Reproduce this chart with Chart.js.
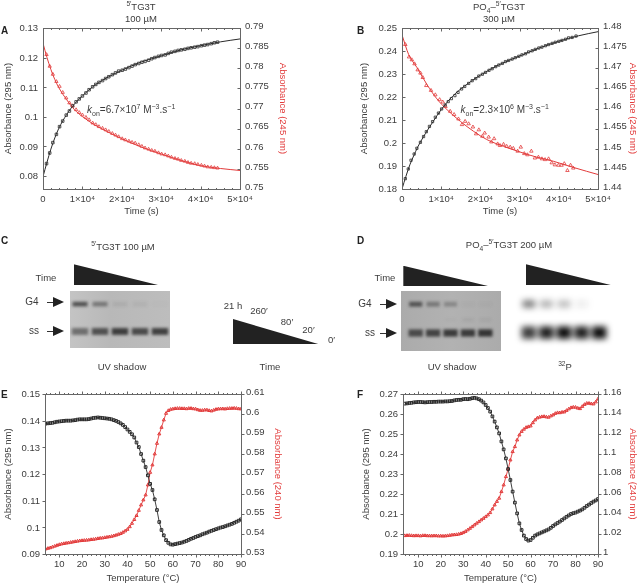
<!DOCTYPE html>
<html><head><meta charset="utf-8">
<script src="https://cdn.jsdelivr.net/npm/chart.js@4"></script>
<style>
html,body{margin:0;padding:0;background:#fff}
#page{position:relative;width:638px;height:583px;overflow:hidden;font-family:"Liberation Sans",Arial,sans-serif;font-size:9.5px;color:#3c3c3c;filter:blur(.35px)}
canvas{position:absolute;display:block}
.t{position:absolute;white-space:nowrap;line-height:1;transform:translate(-50%,-50%)}
.l{position:absolute;white-space:nowrap;line-height:1;transform:translateY(-50%)}
.b{font-weight:bold;color:#222;font-size:10px}
sup,sub{font-size:70%;line-height:0}
.tri,.head{position:absolute;background:#222}
.tri{clip-path:polygon(0 0,100% 100%,0 100%)}
.head{clip-path:polygon(0 0,100% 50%,0 100%)}
.shaft{position:absolute;height:1px;background:#333}
.gel{position:absolute;overflow:hidden}
</style></head><body><div id="page"></div>
<script>
// ---------- panel A ----------
const timeA=[.9,1.7,2.5,3.4,4.2,5,5.9,6.7,7.5,8.4,9.2,10,10.9,11.7,12.6,13.4,14.2,15.1,15.9,16.7,17.6,18.4,19.2,20.1,20.9,21.8,22.6,23.4,24.3,25.1,25.9,26.8,27.6,28.4,29.3,30.1,31,31.8,32.6,33.5,34.3,35.1,36,36.8,37.6,38.5,39.3,40.2,41,41.8,42.7,43.5,44.3];
const blackA=[.0841,.0877,.0912,.0940,.0966,.0985,.1005,.1019,.1036,.1050,.1060,.1070,.1080,.1091,.1101,.1109,.1116,.1122,.1129,.1135,.1142,.1148,.1154,.1157,.1161,.1166,.1171,.1176,.1180,.1184,.1187,.1191,.1196,.1200,.1204,.1207,.1209,.1214,.1218,.1221,.1224,.1226,.1228,.1231,.1233,.1235,.1237,.1240,.1242,.1244,.1247,.1250,.1252];
const redA=[.7834,.7805,.7785,.7767,.7755,.7740,.7726,.7714,.7707,.7697,.7690,.7684,.7678,.7672,.7664,.7660,.7655,.7651,.7647,.7643,.7638,.7634,.7630,.7625,.7622,.7619,.7616,.7614,.7610,.7606,.7602,.7599,.7596,.7594,.7590,.7587,.7585,.7582,.7579,.7576,.7574,.7571,.7569,.7566,.7564,.7563,.7561,.7559,.7557,.7555,.7554,.7553,.7552];
const fitTimeA=[0,1,2,3,4,6,8,10,13,16,20,25,30,35,40,45,50];
const fitBlackA=[.0797,.0845,.0890,.0928,.0960,.1007,.1043,.1070,.1105,.1130,.1157,.1185,.1206,.1226,.1240,.1253,.1263];
const fitRedA=[.7862,.7827,.7797,.7772,.7752,.7722,.7697,.7680,.7660,.7644,.7625,.7604,.7587,.7571,.7558,.7551,.7546];
// ---------- panel B ----------
const timeB=[.85,1.6,2.3,3.1,3.8,4.7,5.5,6.2,7,7.8,8.5,9.3,10.1,11,11.8,12.6,13.5,14.3,15.2,16,17,17.9,18.8,19.6,20.5,21.3,22.2,23,23.9,24.7,25.6,26.4,27.2,28.1,28.9,29.8,30.6,31.5,32.3,33.2,34,34.9,35.7,36.6,37.4,38.3,39.1,40,40.8,41.7,42.5,43.4,44.4];
const blackB=[.1845,.1887,.1925,.1952,.1977,.2003,.2028,.2049,.2072,.2093,.2112,.2130,.2148,.2165,.2180,.2193,.2206,.2220,.2235,.2246,.2259,.2271,.2280,.2291,.2299,.2307,.2316,.2323,.2332,.2339,.2346,.2354,.2359,.2365,.2371,.2377,.2383,.2388,.2396,.2401,.2407,.2413,.2417,.2423,.2428,.2433,.2438,.2442,.2446,.2451,.2457,.2459,.2465];
const timeRedB=[.85,1.8,2.5,3.2,4,4.7,5.3,6.2,7.4,8.5,9.6,10.4,11.1,12.3,13.3,14.4,15.3,16.1,17,18.1,18.9,19.6,20.5,21.1,22.1,22.8,23.5,24.4,25,25.9,26.7,27.6,28.4,29.5,30.3,31.2,32,33,33.9,34.8,35.7,36.5,37.4,38.2,39,39.9,40.7,41.4,42.2,43,43.7];
const redB=[1.4759,1.4728,1.4721,1.4711,1.4696,1.4688,1.4677,1.4657,1.4645,1.4634,1.4622,1.4616,1.4605,1.4593,1.4585,1.4574,1.456,1.4568,1.4562,1.4554,1.4537,1.4547,1.4531,1.4539,1.4529,1.4517,1.4525,1.4512,1.4508,1.4511,1.4506,1.4504,1.4501,1.4494,1.4504,1.4488,1.4485,1.4494,1.4477,1.4479,1.4475,1.4473,1.4475,1.4465,1.4460,1.4459,1.4459,1.4463,1.4446,1.4459,1.4452];
const fitTimeBlackB=[0,1,2,3,4,6,8,10,13,16,20,25,30,35,40,45,50];
const fitBlackB=[.18,.1855,.1905,.1945,.1982,.2042,.2095,.2145,.2205,.2248,.2295,.2342,.2378,.2413,.2442,.2466,.2484];
const fitTimeRedB=[0,1.7,3.8,6.4,8.9,11.5,14.9,18.3,21.6,25.9,30.1,34.4,38.6,42.9,47.1,50];
const fitRedB=[1.4783,1.4734,1.4702,1.4659,1.4624,1.4597,1.4568,1.4543,1.4523,1.4506,1.4492,1.4479,1.4469,1.4456,1.4444,1.4436];
// ---------- panels E and F ----------
const tempC=[4,5,6,7,8,9,10,11,12,13,14,15,16,17,18,19,20,21,22,23,24,25,26,27,28,29,30,31,32,33,34,35,36,37,38,39,40,41,42,43,44,45,46,47,48,49,50,51,52,53,54,55,56,57,58,59,60,61,62,63,64,65,66,67,68,69,70,71,72,73,74,75,76,77,78,79,80,81,82,83,84,85,86,87,88,89,90];
const blackE=[.1389,.1390,.1391,.1392,.1394,.1396,.1397,.1398,.1399,.1400,.1400,.1400,.1401,.1402,.1404,.1405,.1405,.1405,.1405,.1406,.1408,.1410,.1411,.1412,.1411,.1410,.1409,.1408,.1407,.1405,.1402,.1399,.1395,.1390,.1384,.1376,.1367,.1358,.1349,.1337,.1318,.1301,.1275,.1250,.1226,.1195,.1163,.1140,.1105,.1065,.1020,.0990,.0970,.0952,.0942,.0936,.0935,.0937,.0939,.0941,.0943,.0946,.0949,.0953,.0957,.0960,.0964,.0967,.0970,.0974,.0977,.0980,.0984,.0987,.0990,.0993,.0996,.0999,.1001,.1004,.1007,.1010,.1013,.1017,.1021,.1025,.1030];
const redE=[.5325,.5328,.5331,.5335,.5339,.5343,.5347,.5350,.5352,.5354,.5356,.5358,.5360,.5362,.5364,.5366,.5367,.5368,.5369,.5370,.5372,.5373,.5375,.5377,.5379,.5380,.5382,.5384,.5386,.5388,.5391,.5394,.5398,.5402,.5408,.5415,.5423,.5436,.5453,.5472,.5492,.5518,.5545,.5570,.5595,.5645,.5708,.5745,.5800,.5853,.5900,.5933,.5970,.6003,.6017,.6023,.6025,.6027,.6028,.6028,.6027,.6027,.6026,.6028,.6028,.6026,.6025,.6021,.6018,.6018,.6020,.6020,.6017,.6015,.6019,.6023,.6025,.6026,.6026,.6025,.6027,.6028,.6028,.6029,.6028,.6026,.6025];
const blackF=[.2652,.2653,.2655,.2656,.2658,.2659,.2660,.2660,.2659,.2658,.2659,.2660,.2660,.2661,.2661,.2662,.2662,.2662,.2663,.2663,.2664,.2665,.2668,.2670,.2671,.2671,.2674,.2675,.2674,.2676,.2679,.2681,.2678,.2674,.2667,.2658,.2645,.2630,.2612,.2588,.2562,.2533,.2503,.2463,.2423,.2378,.2325,.2270,.2212,.2157,.2103,.2053,.2020,.1992,.1975,.1967,.1970,.1981,.1992,.1998,.2003,.2008,.2013,.2018,.2023,.2031,.2040,.2048,.2055,.2062,.2070,.2078,.2086,.2093,.2100,.2104,.2107,.2112,.2117,.2123,.2131,.2140,.2147,.2155,.2162,.2168,.2175];
const redF=[1.0183,1.0185,1.0186,1.0184,1.0182,1.0183,1.0183,1.0181,1.0184,1.0184,1.0182,1.0182,1.0181,1.0182,1.0182,1.0180,1.0180,1.0179,1.0180,1.0183,1.0186,1.0190,1.0192,1.0194,1.0198,1.0204,1.0213,1.0225,1.0240,1.0256,1.0273,1.0290,1.0307,1.0323,1.0340,1.0356,1.0373,1.0390,1.0413,1.0450,1.0490,1.0525,1.0557,1.0623,1.0690,1.0773,1.0850,1.0940,1.1023,1.1073,1.1140,1.1190,1.1225,1.1247,1.1265,1.1273,1.1280,1.1312,1.1340,1.1360,1.1368,1.1373,1.1375,1.1370,1.1367,1.1380,1.1390,1.1405,1.1413,1.1412,1.1418,1.1420,1.1435,1.1450,1.1463,1.1468,1.1467,1.1458,1.1453,1.1475,1.1495,1.1507,1.1507,1.1502,1.1500,1.1520,1.1550];
// ---------- tick labels ----------
const ticksTime=[0,10,20,30,40,50];
const ticksTemp=[10,20,30,40,50,60,70,80,90];
const ticksLeftA=[.08,.09,.1,.11,.12,.13];
const ticksRightA=[.75,.755,.76,.765,.77,.775,.78,.785,.79];
const ticksLeftB=[.18,.19,.2,.21,.22,.23,.24,.25];
const ticksRightB=[1.44,1.445,1.45,1.455,1.46,1.465,1.47,1.475,1.48];
const ticksLeftE=[.09,.1,.11,.12,.13,.14,.15];
const ticksRightE=[.53,.54,.55,.56,.57,.58,.59,.6,.61];
const ticksLeftF=[.19,.2,.21,.22,.23,.24,.25,.26,.27];
const ticksRightF=[1,1.02,1.04,1.06,1.08,1.1,1.12,1.14,1.16];
// ---------- gels: band darkness per lane ----------
const lanes=['1','2','3','4','5'];
const gelCG4=[.7,.45,.08,.06,.02];
const gelCss=[.5,.68,.8,.72,.78];
const gelD1G4=[.62,.38,.28,.03,.03];
const gelD1mid=[0,0,.02,.07,.06];
const gelD1ss=[.68,.72,.78,.78,.82];
const gelD2G4=[.55,.32,.27,.08,0];
const gelD2ss=[.8,.92,1,.92,1];

const BLACK='#2a2a2a',RED='#e23b3b',TEXT='#3c3c3c',FONT='"Liberation Sans",Arial,sans-serif';
const page=document.getElementById('page');
const xy=(xs,ys)=>xs.map((x,i)=>({x,y:ys[i]}));

const frameTicks={id:'frameTicks',afterDatasetsDraw(c,_a,o){
  const g=c.ctx,a=c.chartArea,{x,y,y1}=c.scales;
  g.save();g.strokeStyle='#666';g.lineWidth=1;
  const L=Math.round(a.left)+.5,R=Math.round(a.right)+.5,T=Math.round(a.top)+.5,B=Math.round(a.bottom)+.5;
  g.strokeRect(L,T,R-L,B-T);
  const d=o.out?-1:1,seg=(x0,y0,x1,y1)=>{g.beginPath();g.moveTo(x0,y0);g.lineTo(x1,y1);g.stroke()};
  y.ticks.forEach(t=>{const p=Math.round(y.getPixelForValue(t.value))+.5;seg(L,p,L+d*3,p)});
  y1.ticks.forEach(t=>{const p=Math.round(y1.getPixelForValue(t.value))+.5;seg(R,p,R-d*3,p)});
  x.ticks.forEach(t=>{const p=Math.round(x.getPixelForValue(t.value))+.5;seg(p,B,p,B-d*3);seg(p,T,p,T+d*3)});
  for(let m=o.minorStart;m<x.max;m+=o.minorStep){const q=Math.round(x.getPixelForValue(m))+.5;seg(q,B,q,B-d*1.5);seg(q,T,q,T+d*1.5)}
  g.restore();
}};
const noPad=s=>{s.paddingTop=0;s.paddingBottom=0;s.paddingLeft=0;s.paddingRight=0};

function yAxis(pos,width,min,max,ticks,title,color,off,pad){
  return {type:'linear',position:pos,min,max,
    afterBuildTicks:s=>{s.ticks=ticks.map(v=>({value:v}))},
    afterFit:s=>{s.width=width;noPad(s)},
    grid:{display:false,drawTicks:false},border:{display:false},
    ticks:{autoSkip:false,padding:5,color:TEXT,font:{family:FONT,size:9.5},labelOffset:off,callback:v=>String(v)},
    title:{display:true,text:title,color,font:{family:FONT,size:9.5},padding:{top:pad,bottom:0}}};
}
function makeChart(o){
  const cv=document.createElement('canvas');
  cv.width=o.w;cv.height=o.h;cv.style.left=o.x+'px';cv.style.top=o.y+'px';
  page.appendChild(cv);
  new Chart(cv,{type:'scatter',data:{datasets:o.datasets},plugins:[frameTicks],options:{
    responsive:false,animation:false,events:[],
    layout:{padding:{top:o.padTop,left:0,right:0,bottom:0}},
    plugins:{legend:{display:false},tooltip:{enabled:false},frameTicks:o.frame},
    scales:{
      x:{type:'linear',min:o.xMin,max:o.xMax,
        afterBuildTicks:s=>{s.ticks=o.xTicks.map(v=>({value:v}))},
        afterFit:s=>{s.height=o.bottom;noPad(s)},
        grid:{display:false,drawTicks:false},border:{display:false},
        ticks:{autoSkip:false,maxRotation:0,padding:5,color:TEXT,font:{family:FONT,size:9.5},callback:o.xFmt},
        title:{display:true,text:o.xTitle,color:TEXT,font:{family:FONT,size:9.5},padding:{top:0,bottom:1}}},
      y:yAxis('left',o.lw,o.yL[0],o.yL[1],o.tL,'Absorbance (295 nm)',TEXT,.8,3),
      y1:yAxis('right',o.rw,o.yR[0],o.yR[1],o.tR,o.rTitle,RED,-1.8,0)
    }}});
}
const pts=(data,color,style,axis,r)=>({data,yAxisID:axis,showLine:false,pointStyle:style,pointRadius:r,pointBackgroundColor:'transparent',pointBorderColor:color,pointBorderWidth:.8});
const fit=(data,color,axis)=>({data,yAxisID:axis,showLine:true,borderColor:color,borderWidth:1,pointRadius:0,cubicInterpolationMode:'monotone'});
const meltLine=(data,color,style,axis,r)=>({data,yAxisID:axis,showLine:true,borderColor:color,borderWidth:.9,pointStyle:style,pointRadius:r,pointBackgroundColor:'transparent',pointBorderColor:color,pointBorderWidth:1});
const timeFmt=v=>v===0?'0':(v/10)+'×10⁴';

makeChart({x:0,y:20,w:288,h:198,padTop:8,lw:43,rw:48,bottom:29,xMin:0,xMax:50,xTicks:ticksTime,xFmt:timeFmt,xTitle:'Time (s)',
  yL:[.0755,.13],yR:[.75,.79],tL:ticksLeftA,tR:ticksRightA,rTitle:'Absorbance (245 nm)',frame:{out:false,minorStart:2,minorStep:2},
  datasets:[fit(xy(fitTimeA,fitBlackA),BLACK,'y'),fit(xy(fitTimeA,fitRedA),RED,'y1'),pts(xy(timeA,blackA),BLACK,'rect','y',1.8),pts(xy(timeA,redA),RED,'triangle','y1',1.9)]});
makeChart({x:356,y:20,w:282,h:198,padTop:8,lw:46,rw:40,bottom:29,xMin:0,xMax:50,xTicks:ticksTime,xFmt:timeFmt,xTitle:'Time (s)',
  yL:[.18,.25],yR:[1.44,1.48],tL:ticksLeftB,tR:ticksRightB,rTitle:'Absorbance (245 nm)',frame:{out:false,minorStart:2,minorStep:2},
  datasets:[fit(xy(fitTimeBlackB,fitBlackB),BLACK,'y'),fit(xy(fitTimeRedB,fitRedB),RED,'y1'),pts(xy(timeB,blackB),BLACK,'rect','y',1.6),pts(xy(timeRedB,redB),RED,'triangle','y1',2)]});
makeChart({x:0,y:386,w:283,h:199,padTop:8,lw:45,rw:42,bottom:31,xMin:3.7,xMax:90,xTicks:ticksTemp,xFmt:v=>String(v),xTitle:'Temperature (°C)',
  yL:[.09,.15],yR:[.53,.61],tL:ticksLeftE,tR:ticksRightE,rTitle:'Absorbance (240 nm)',frame:{out:true,minorStart:4,minorStep:2},
  datasets:[meltLine(xy(tempC,blackE),BLACK,'rect','y',1.9),meltLine(xy(tempC,redE),RED,'triangle','y1',1.8)]});
makeChart({x:358,y:386,w:280,h:199,padTop:8,lw:45,rw:40,bottom:31,xMin:3.2,xMax:90,xTicks:ticksTemp,xFmt:v=>String(v),xTitle:'Temperature (°C)',
  yL:[.19,.27],yR:[1,1.16],tL:ticksLeftF,tR:ticksRightF,rTitle:'Absorbance (240 nm)',frame:{out:true,minorStart:4,minorStep:2},
  datasets:[meltLine(xy(tempC,blackF),BLACK,'rect','y',1.9),meltLine(xy(tempC,redF),RED,'triangle','y1',1.8)]});

// gels
function gel(box,canvasBox,blur,bands,bg,color){
  const d=document.createElement('div');d.className='gel';
  Object.assign(d.style,{left:box[0]+'px',top:box[1]+'px',width:box[2]+'px',height:box[3]+'px',background:bg});
  const cv=document.createElement('canvas');cv.width=canvasBox[1];cv.height=box[3];
  cv.style.left=canvasBox[0]+'px';cv.style.top='0';cv.style.filter=`blur(${blur}px)`;
  d.appendChild(cv);page.appendChild(d);
  new Chart(cv,{type:'bar',data:{labels:lanes,datasets:bands.map(b=>({
      data:b.dark.map(()=>[b.pos-b.h/2,b.pos+b.h/2]),
      backgroundColor:b.dark.map(v=>`rgba(${color},${v})`),barPercentage:b.w,categoryPercentage:1,grouped:false}))},
    options:{responsive:false,animation:false,events:[],layout:{padding:0},
      plugins:{legend:{display:false},tooltip:{enabled:false}},
      scales:{x:{display:false},y:{display:false,min:0,max:1}}}});
}
gel([70,291,100,57],[0,100],1.5,[{dark:gelCG4,pos:.77,h:.08,w:.75},{dark:gelCss,pos:.29,h:.12,w:.82}],
  'linear-gradient(90deg,#c4c4c4,#b8b8b8 40%,#bdbdbd)','30,30,30');
gel([401,291,100,60],[6,87],1.4,[{dark:gelD1G4,pos:.78,h:.08,w:.75},{dark:gelD1mid,pos:.52,h:.05,w:.65},{dark:gelD1ss,pos:.3,h:.12,w:.82}],
  'linear-gradient(90deg,#ababab,#b2b2b2 50%,#ababab)','25,25,25');
gel([513,281,108,82],[7,88],3.2,[{dark:gelD2G4,pos:.72,h:.09,w:.72},{dark:gelD2ss,pos:.37,h:.15,w:.82}],
  '#fff','10,10,10');

// triangles, arrows, texts
function el(cls,css,html){const e=document.createElement('div');e.className=cls;Object.assign(e.style,css);if(html)e.innerHTML=html;page.appendChild(e);return e}
[[73.7,264.3,85.3,21],[233,319,86,25.3],[403.3,265.7,85.7,20.6],[526,264.3,85.7,21]].forEach(t=>
  el('tri',{left:t[0]+'px',top:t[1]+'px',width:t[2]+'px',height:t[3]+'px'}));
[[47,302],[47,331],[380,304],[380,333]].forEach(a=>{
  el('shaft',{left:a[0]+'px',top:a[1]+'px',width:'10px'});
  el('head',{left:(a[0]+6)+'px',top:(a[1]-5)+'px',width:'11px',height:'10px'});
});
const T=(x,y,h,cls='t',css={})=>el(cls,Object.assign({left:x+'px',top:y+'px'},css),h);
const big={fontSize:'10px'};
T(1,31,'A','l b');T(357,31,'B','l b');T(1,241,'C','l b');T(357,241,'D','l b');T(1,395,'E','l b');T(357,395,'F','l b');
T(141,7,'<sup>5′</sup>TG3T');T(141,18.5,'100 µM');
T(499,7,'PO<sub>4</sub>–<sup>5′</sup>TG3T');T(499,19,'300 µM');
T(87,110,'<i>k</i><sub>on</sub>=6.7×10<sup>7</sup> M<sup>−3</sup>.s<sup>−1</sup>','l',big);
T(460.5,110,'<i>k</i><sub>on</sub>=2.3×10<sup>6</sup> M<sup>−3</sup>.s<sup>−1</sup>','l',big);
T(123,247,'<sup>5′</sup>TG3T 100 µM');T(509,245,'PO<sub>4</sub>–<sup>5′</sup>TG3T 200 µM');
T(46,277.5,'Time');T(385,277.5,'Time');
T(32,302,'G4','t',big);T(34,331,'ss','t',big);T(365,304,'G4','t',big);T(370,333,'ss','t',big);
T(233,306,'21 h');T(259,310.7,'260′');T(287,321.7,'80′');T(308.5,330,'20′');T(331.5,340,'0′');
T(122,367,'UV shadow');T(270,367,'Time');T(452,367,'UV shadow');T(565,367,'<sup>32</sup>P');
</script></body></html>
